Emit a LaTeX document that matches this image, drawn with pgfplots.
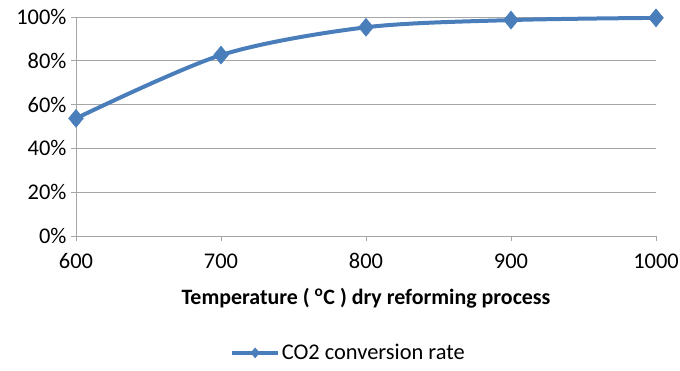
\documentclass[border=0pt]{standalone}
\usepackage{fontspec}
\setmainfont{Carlito}
\usepackage{pgfplots}
\pgfplotsset{compat=1.18}
\definecolor{xlblue}{HTML}{4A7EBB}
\definecolor{gridgray}{HTML}{A6A6A6}
\begin{document}
\begin{tikzpicture}
\useasboundingbox (-76bp,-135bp) rectangle (604bp,236bp);
\begin{axis}[
  scale only axis,
  width=580bp, height=219bp,
  xmin=600, xmax=1000, ymin=0, ymax=100,
  xtick={600,700,800,900,1000},
  ytick={0,20,40,60,80,100},
  yticklabel={\pgfmathprintnumber{\tick}\%},
  /pgf/number format/assume math mode=true,
  /pgf/number format/set thousands separator={},
  axis x line*=bottom, axis y line*=left,
  axis line style={gridgray, line width=0.8bp},
  ymajorgrids, grid style={gridgray, line width=0.8bp},
  tick style={gridgray, line width=0.8bp},
  tick align=outside, major tick length=5bp,
  ticklabel style={font=\fontsize{22.5}{25}\selectfont, text=black},
  xticklabel style={yshift=-9bp},
  yticklabel style={xshift=-1bp},
  xlabel={\textbf{Temperature ( \textsuperscript{o}C ) dry reforming process}},
  xlabel style={font=\fontsize{22}{25}\selectfont, yshift=-12bp},
  legend style={at={(0.47,-0.485)}, anchor=north, draw=none, font=\fontsize{22.5}{25}\selectfont, legend cell align=left, inner sep=0pt},
  legend image code/.code={
    \draw[#1, mark=none] (0cm,0cm) -- (1.6cm,0cm);
    \draw[#1, only marks, mark size=5bp] plot coordinates {(0.8cm,0cm)};
  },
]
\addplot[xlblue, line width=4bp, smooth, mark=diamond*, mark size=9bp, mark options={fill=xlblue, line width=0.5bp, xscale=1.1}]
  coordinates {(600,53.7) (700,82.6) (800,95.3) (900,98.6) (1000,99.6)};
\addlegendentry{CO2 conversion rate}
\end{axis}
\end{tikzpicture}
\end{document}
